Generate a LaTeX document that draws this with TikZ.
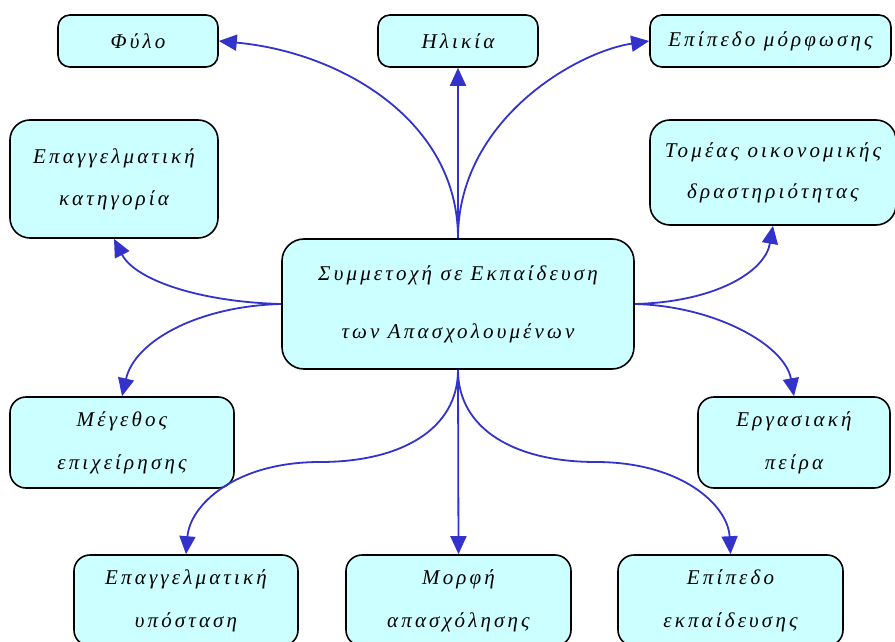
\documentclass[tikz,border=0pt]{standalone}
\usepackage{fontspec}
\setmainfont{Liberation Serif}
\newfontfamily\grk[LetterSpace=15]{Liberation Serif}
\usetikzlibrary{arrows.meta}
\definecolor{boxfill}{HTML}{CCFFFF}
\definecolor{arrowblue}{HTML}{3333CC}
\begin{document}
\begin{tikzpicture}[x=1pt,y=-1pt,
  box/.style={draw=black, line width=1.6pt, fill=boxfill, rounded corners=12pt,
    inner sep=0pt, align=center, font=\grk\itshape\fontsize{21}{24}\selectfont},
  conn/.style={draw=arrowblue, line width=1.8pt,
    -{Triangle[length=18pt,width=16pt]}}]
\useasboundingbox (0,0) rectangle (895,642);
\clip (0,0) rectangle (895,642);

\node[box, minimum width=160, minimum height=52] (fylo) at (138,41) {Φύλο};
\node[box, minimum width=160, minimum height=52] (ilikia) at (458,41) {Ηλικία};
\node[box, minimum width=241, minimum height=52] (morf) at (770.5,41) {Επίπεδο μόρφωσης};
\node[box, minimum width=208, minimum height=118, rounded corners=20pt] (katig) at (114,179) {Επαγγελματική\\[18pt]κατηγορία};
\node[box, minimum width=246, minimum height=105, rounded corners=20pt] (tomeas) at (773,172.5) {Τομέας οικονομικής\\[17pt]δραστηριότητας};
\node[box, minimum width=352, minimum height=130, rounded corners=22pt] (center) at (458,304) {Συμμετοχή σε Εκπαίδευση\\[34pt]των Απασχολουμένων};
\node[box, minimum width=224, minimum height=91, rounded corners=16pt] (megethos) at (122,442.5) {Μέγεθος\\[19pt]επιχείρησης};
\node[box, minimum width=192, minimum height=91, rounded corners=16pt] (peira) at (794,442.5) {Εργασιακή\\[19pt]πείρα};
\node[box, minimum width=224, minimum height=91, rounded corners=16pt] (ypostasi) at (186,600.5) {Επαγγελματική\\[19pt]υπόσταση};
\node[box, minimum width=225, minimum height=91, rounded corners=16pt] (morfi) at (458.5,600.5) {Μορφή\\[19pt]απασχόλησης};
\node[box, minimum width=225, minimum height=91, rounded corners=16pt] (ekpaid) at (730.5,600.5) {Επίπεδο\\[19pt]εκπαίδευσης};

\draw[conn] (center.north) .. controls (458,120) and (340,52) .. (fylo.east);
\draw[conn] (center.north) -- (ilikia.south);
\draw[conn] (center.north) .. controls (458,120) and (576,52) .. (morf.west);
\draw[conn] (center.west) .. controls (200,302) and (135,280) .. (katig.south);
\draw[conn] (center.west) .. controls (200,306) and (135,340) .. (megethos.north);
\draw[conn] (center.east) .. controls (715,302) and (765,272) .. (tomeas.south);
\draw[conn] (center.east) .. controls (715,306) and (785,345) .. (peira.north);
\draw[conn] (center.south) .. controls (458,430) and (400,462) .. (320,462)
  .. controls (235,462) and (190,505) .. (ypostasi.north);
\draw[conn] (center.south) -- (morfi.north);
\draw[conn] (center.south) .. controls (458,430) and (516,462) .. (596,462)
  .. controls (681,462) and (728,505) .. (ekpaid.north);
\end{tikzpicture}
\end{document}
